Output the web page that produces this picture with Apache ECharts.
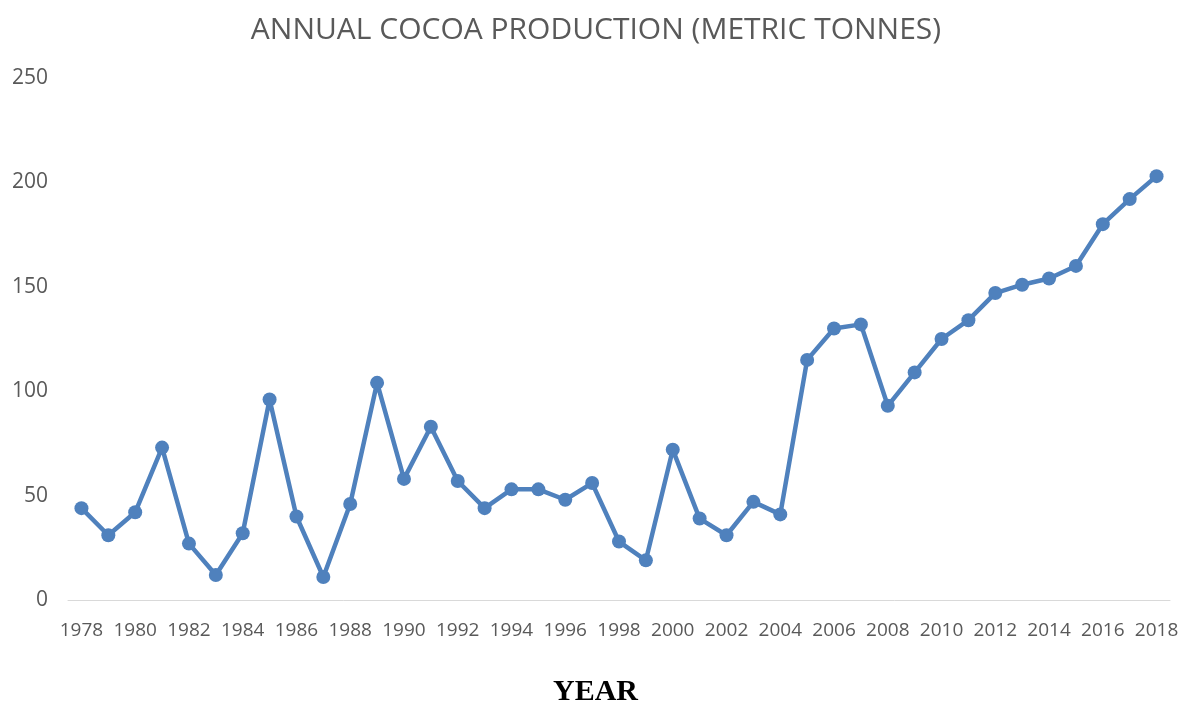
<!DOCTYPE html>
<html lang="en">
<head>
    <meta charset="UTF-8">
    <title>Annual Cocoa Production</title>
  <style>
    html, body { margin: 0; padding: 0; background: #fff; }
    #chart { width: 1192px; height: 707px; }
  </style>
</head>
<body>
<div id="chart"></div>
<script src="https://cdn.jsdelivr.net/npm/echarts@6/dist/echarts.min.js"></script>
<script>
  // years on the x axis
  const years = [];
  for (let y = 1978; y <= 2018; y++) years.push(String(y));

  // production values
  const production = [
    44, 31, 42, 73, 27, 12, 32, 96, 40, 11,
    46, 104, 58, 83, 57, 44, 53, 53, 48, 56,
    28, 19, 72, 39, 31, 47, 41, 115, 130, 132,
    93, 109, 125, 134, 147, 151, 154, 160, 180, 192,
    203
  ];

  const yTicks = [0, 50, 100, 150, 200, 250];

  const chart = echarts.init(document.getElementById('chart'));
  const option = {
    animation: false,
    title: {
      text: 'ANNUAL COCOA PRODUCTION (METRIC TONNES)',
      left: 'center',
      top: 10,
      textStyle: {
        fontFamily: 'Open Sans',
        fontWeight: 'normal',
        fontSize: 30,
        color: '#595959'
      }
    },
    grid: { left: 68, right: 22, top: 78, bottom: 107 },
    xAxis: {
      type: 'category',
      data: years,
      boundaryGap: true,
      axisLine: { lineStyle: { color: '#d9d9d9', width: 1 } },
      axisTick: { show: false },
      axisLabel: {
        interval: 1,
        margin: 21,
        fontFamily: 'Open Sans',
        fontSize: 19,
        color: '#595959'
      }
    },
    yAxis: {
      type: 'value',
      min: yTicks[0],
      max: yTicks[yTicks.length - 1],
      interval: 50,
      splitLine: { show: false },
      axisLine: { show: false },
      axisTick: { show: false },
      axisLabel: {
        margin: 20,
        fontFamily: 'Open Sans',
        fontSize: 21,
        color: '#595959'
      }
    },
    graphic: [
      {
        type: 'text',
        left: 553,
        top: 677,
        style: {
          text: 'YEAR',
          font: 'bold 30px "Liberation Serif"',
          fill: '#000'
        }
      }
    ],
    series: [
      {
        type: 'line',
        data: production,
        symbol: 'circle',
        symbolSize: 14,
        lineStyle: { color: '#4f81bd', width: 4.5 },
        itemStyle: { color: '#4f81bd' }
      }
    ]
  };
  chart.setOption(option);
</script>
</body>
</html>
